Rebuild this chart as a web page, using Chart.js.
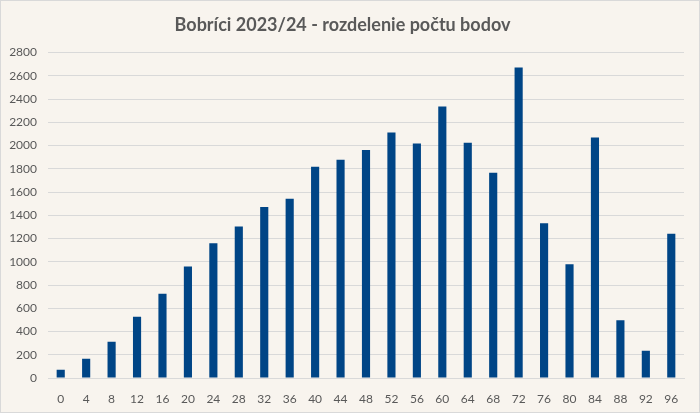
<!DOCTYPE html>
<html>
<head>
<meta charset="utf-8">
<script src="https://cdn.jsdelivr.net/npm/chart.js@4"></script>
<style>
  html, body { margin: 0; padding: 0; background: #f8f4ee; }
  #wrap { width: 700px; height: 413px; box-sizing: border-box; border: 1px solid #d9d9d9; }
</style>
</head>
<body>
<div id="wrap"><canvas id="pointsChart" width="698" height="411"></canvas></div>
<script>
var points = ['0', '4', '8', '12', '16', '20', '24', '28', '32', '36', '40', '44', '48',
              '52', '56', '60', '64', '68', '72', '76', '80', '84', '88', '92', '96'];
var pupils = [72, 166, 312, 527, 724, 959, 1159, 1303, 1471, 1543, 1818, 1878, 1961,
              2113, 2018, 2336, 2024, 1766, 2671, 1331, 979, 2070, 498, 235, 1242];
var yMax = 2800;
var yStep = 200;

document.addEventListener('DOMContentLoaded', function() {
    var ctx = document.getElementById('pointsChart').getContext('2d');
    var chart = new Chart(ctx, {
        type: 'bar',
        data: {
            labels: points,
            datasets: [{
                label: 'Počet',
                data: pupils,
                backgroundColor: '#004586',
                barPercentage: 0.32,
                categoryPercentage: 1
            }]
        },
        options: {
            responsive: false,
            devicePixelRatio: 1,
            animation: false,
            layout: { padding: { left: 0, right: 15, top: 0, bottom: 0 } },
            plugins: {
                legend: { display: false },
                tooltip: { enabled: false },
                title: {
                    display: true,
                    text: 'Bobríci 2023/24 - rozdelenie počtu bodov',
                    color: '#595959',
                    font: { family: 'Lato', size: 18, weight: 'bold' },
                    padding: { top: 13, bottom: 17 }
                }
            },
            scales: {
                x: {
                    grid: { display: false },
                    border: { display: true, color: '#d9d9d9' },
                    ticks: { color: '#595959', font: { family: 'Lato', size: 12 }, padding: 6, maxRotation: 0 },
                    afterFit: function(scale) { scale.height = 34; }
                },
                y: {
                    min: 0,
                    max: yMax,
                    grid: { color: '#d9d9d9', drawTicks: false },
                    border: { display: false },
                    ticks: {
                        stepSize: yStep,
                        color: '#595959',
                        font: { family: 'Lato', size: 12 },
                        padding: 11,
                        callback: function(value) { return String(value); }
                    },
                    afterFit: function(scale) { scale.width = 47; }
                }
            }
        }
    });
});
</script>
</body>
</html>
